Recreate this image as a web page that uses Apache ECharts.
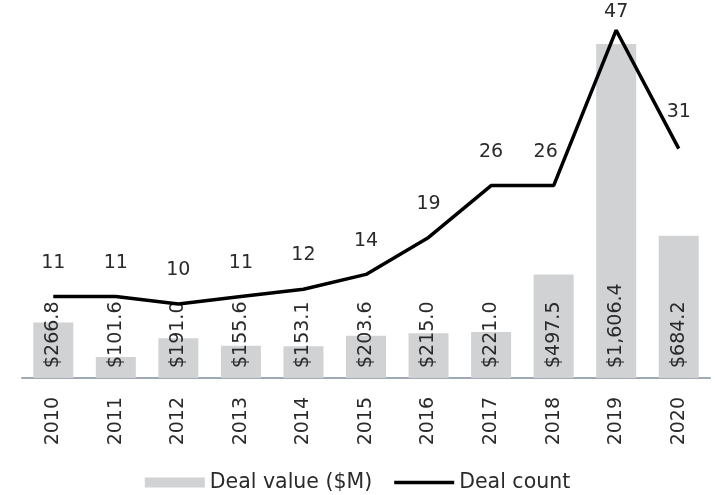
<!DOCTYPE html>
<html>
<head>
<meta charset="utf-8">
<style>html,body{margin:0;padding:0;background:#fff}#c{width:715px;height:495px}</style>
<script src="https://cdn.jsdelivr.net/npm/echarts@6/dist/echarts.min.js"></script>
</head>
<body>
<div id="c"></div>
<script>
var years = ['2010','2011','2012','2013','2014','2015','2016','2017','2018','2019','2020'];
var dealValue = [266.8, 101.6, 191.0, 155.6, 153.1, 203.6, 215.0, 221.0, 497.5, 1606.4, 684.2];
var dealCount = [11, 11, 10, 11, 12, 14, 19, 26, 26, 47, 31];

var FONT = 'DejaVu Sans';
var chart = echarts.init(document.getElementById('c'), null, {renderer: 'canvas'});

var countData = dealCount.map(function (v, i) {
  var d = {value: v};
  if (years[i] === '2019') d.label = {distance: 8};
  if (years[i] === '2018') d.label = {offset: [-8, 0]};
  if (years[i] === '2020') d.label = {distance: 27};
  return d;
});

chart.setOption({
  animation: false,
  textStyle: {fontFamily: FONT},
  grid: {left: 22, right: 5, top: 8, bottom: 117, containLabel: false},
  legend: {
    top: 467,
    left: 'center',
    itemWidth: 60,
    itemHeight: 10,
    itemGap: 22,
    textStyle: {fontFamily: FONT, fontSize: 20.5, color: '#2a2a2a'},
    data: [
      {name: 'Deal value ($M)', icon: 'rect'},
      {name: 'Deal count', icon: 'path://M0,0H60V3.5H0Z'}
    ]
  },
  xAxis: {
    type: 'category',
    data: years,
    axisTick: {show: false},
    axisLine: {lineStyle: {color: '#9eaab6', width: 2}},
    axisLabel: {rotate: 90, margin: 19, fontFamily: FONT, fontSize: 19, color: '#2a2a2a'}
  },
  yAxis: [
    {type: 'value', min: 0, max: 1780, show: false, splitLine: {show: false}},
    {type: 'value', min: 0, max: 50, show: false, splitLine: {show: false}}
  ],
  series: [
    {
      name: 'Deal value ($M)',
      type: 'bar',
      yAxisIndex: 0,
      data: dealValue,
      barWidth: 40,
      itemStyle: {color: '#d1d2d4'},
      label: {
        show: true,
        position: 'insideBottom',
        distance: 10,
        rotate: 90,
        align: 'left',
        verticalAlign: 'middle',
        fontFamily: FONT,
        fontSize: 19,
        color: '#2a2a2a',
        formatter: function (p) {
          return '$' + p.value.toLocaleString('en-US', {minimumFractionDigits: 1, maximumFractionDigits: 1});
        }
      }
    },
    {
      name: 'Deal count',
      type: 'line',
      yAxisIndex: 1,
      data: countData,
      symbol: 'circle',
      symbolSize: 0.5,
      showSymbol: true,
      lineStyle: {color: '#000', width: 3.5},
      itemStyle: {color: '#000'},
      z: 5,
      label: {
        show: true,
        position: 'top',
        distance: 24,
        fontFamily: FONT,
        fontSize: 19,
        color: '#2a2a2a'
      }
    }
  ]
});
</script>
</body>
</html>
